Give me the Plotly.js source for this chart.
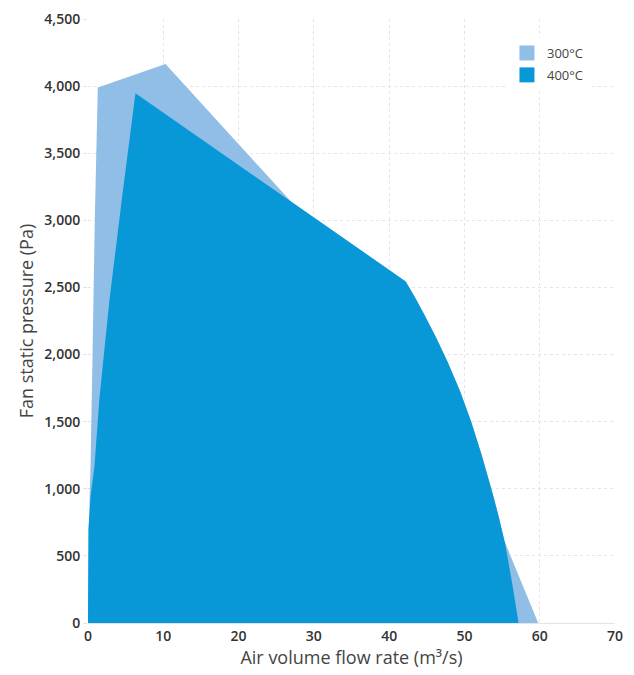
<!DOCTYPE html>
<html>
<head>
<meta charset="utf-8">
<script src="https://cdn.plot.ly/plotly-3.0.1.min.js"></script>
<style>html,body{margin:0;padding:0;background:#fff;}#chart{width:634px;height:675px;}</style>
</head>
<body>
<div id="chart"></div>
<script>
// Fan curve envelopes (air volume flow rate m³/s vs fan static pressure Pa)
var flow300 = [0, 0.2, 0.35, 0.6, 0.9, 1.3, 10.3, 27, 42.2, 43.5, 44.7, 46.2, 47.8, 49.4, 50.9, 52.3, 53.6, 54.5, 55.3, 57.5, 59.8];
var pressure300 = [0, 900, 1200, 2000, 3000, 3990, 4165, 3138, 2545, 2420, 2295, 2130, 1940, 1730, 1500, 1250, 995, 805, 612, 313, 0];
var flow400 = [0, 0.05, 0.35, 0.85, 1.5, 2.2, 2.85, 4.5, 6.3, 42.2, 43.5, 44.7, 46.2, 47.8, 49.4, 50.9, 52.3, 53.6, 54.5, 55.4, 56.3, 57.2];
var pressure400 = [0, 700, 950, 1163, 1661, 2050, 2406, 3160, 3946, 2545, 2420, 2295, 2130, 1940, 1730, 1500, 1250, 995, 805, 594, 310, 0];
var seriesNames = ['300°C', '400°C'];
var seriesColors = ['#91bee6', '#0898d8'];
var xTicks = [0, 10, 20, 30, 40, 50, 60, 70];
var yTicks = [0, 500, 1000, 1500, 2000, 2500, 3000, 3500, 4000, 4500];

var traces = [
  {x: flow300, y: pressure300, name: seriesNames[0], type: 'scatter', mode: 'none',
   fill: 'toself', fillcolor: seriesColors[0], showlegend: false, legendgroup: 'a'},
  {x: flow400, y: pressure400, name: seriesNames[1], type: 'scatter', mode: 'none',
   fill: 'toself', fillcolor: seriesColors[1], showlegend: false, legendgroup: 'b'},
  // legend swatches (square markers)
  {x: [null], y: [null], name: seriesNames[0], type: 'scatter', mode: 'markers',
   marker: {symbol: 'square', size: 15, color: seriesColors[0]}, legendgroup: 'a'},
  {x: [null], y: [null], name: seriesNames[1], type: 'scatter', mode: 'markers',
   marker: {symbol: 'square', size: 15, color: seriesColors[1]}, legendgroup: 'b'}
];

var layout = {
  width: 634, height: 675,
  margin: {l: 88, r: 19, t: 19, b: 52},
  paper_bgcolor: '#ffffff', plot_bgcolor: '#ffffff',
  font: {family: 'Open Sans, Noto Sans, sans-serif', color: '#333', size: 12},
  showlegend: true,
  legend: {x: 0.795, y: 0.9685, xanchor: 'left', yanchor: 'top',
           bgcolor: '#ffffff', borderwidth: 0,
           font: {size: 13, color: '#444'}, tracegroupgap: 2, itemwidth: 30},
  xaxis: {range: [0, 70], tickvals: xTicks, ticktext: xTicks.map(String),
          showgrid: true, gridcolor: '#e4e4e4', griddash: 'dot', gridwidth: 1,
          zeroline: false, showline: true, linecolor: '#e4e4e4',
          ticks: '', tickfont: {size: 14, color: '#333', weight: 600},
          title: {text: 'Air volume flow rate (m³/s)', font: {size: 18, color: '#444'}, standoff: 7},
          fixedrange: true},
  yaxis: {range: [0, 4500], tickvals: yTicks,
          ticktext: yTicks.map(function(v){return v.toLocaleString('en-US');}),
          showgrid: true, gridcolor: '#e4e4e4', griddash: 'dot', gridwidth: 1,
          zeroline: false, showline: false,
          ticks: 'outside', ticklen: 4, tickcolor: '#e4e4e4',
          tickfont: {size: 14, color: '#333', weight: 600},
          title: {text: 'Fan static pressure (Pa)', font: {size: 18, color: '#444'}, standoff: 6},
          fixedrange: true}
};

Plotly.newPlot('chart', traces, layout, {displayModeBar: false, staticPlot: true});
</script>
</body>
</html>
